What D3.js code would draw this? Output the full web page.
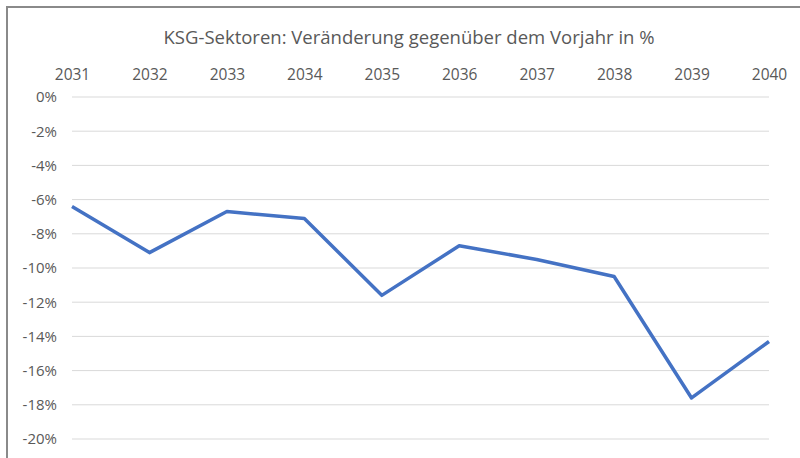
<!DOCTYPE html>
<html>
<head>
<meta charset="utf-8">
<script src="https://cdn.jsdelivr.net/npm/d3@7"></script>
<style>
  body { margin: 0; background: #fff; }
  text { font-family: "Open Sans", sans-serif; fill: #595959; }
</style>
</head>
<body>
<div id="graph"></div>
<script>
// chart data
var years = ["2031", "2032", "2033", "2034", "2035", "2036", "2037", "2038", "2039", "2040"];
var change = [-6.4, -9.1, -6.7, -7.1, -11.6, -8.7, -9.5, -10.5, -17.6, -14.3];
var yTicks = [0, -2, -4, -6, -8, -10, -12, -14, -16, -18, -20];
var title = "KSG-Sektoren: Veränderung gegenüber dem Vorjahr in %";

var W = 800, H = 458;
var margin = {top: 97, right: 31, bottom: 19, left: 72},
    width = W - margin.left - margin.right,
    height = H - margin.top - margin.bottom;

var svg = d3.select("#graph").append("svg")
    .attr("width", W)
    .attr("height", H);

// outer frame (only top and left visible in the crop)
svg.append("path")
    .attr("d", "M7," + H + "V7H" + W)
    .attr("fill", "none")
    .attr("stroke", "#8a8a8a")
    .attr("stroke-width", 2);

svg.append("text")
    .attr("x", 409)
    .attr("y", 44)
    .attr("text-anchor", "middle")
    .style("font-size", "18.5px")
    .text(title);

var g = svg.append("g")
    .attr("transform", "translate(" + margin.left + "," + margin.top + ")");

var x = d3.scalePoint()
    .domain(years)
    .range([0, width]);

var y = d3.scaleLinear()
    .domain([-20, 0])
    .range([342, 0]);

// gridlines
g.selectAll(".grid")
  .data(yTicks)
  .enter()
  .append("line")
    .attr("x1", 0)
    .attr("x2", width)
    .attr("y1", function(d) { return y(d); })
    .attr("y2", function(d) { return y(d); })
    .attr("stroke", "#d9d9d9")
    .attr("stroke-width", 1);

// y labels
var yAxis = g.append("g")
    .call(d3.axisLeft(y).tickValues(yTicks).tickSize(0).tickPadding(15)
      .tickFormat(function(d) { return d + "%"; }));
yAxis.select(".domain").remove();
yAxis.selectAll("text").style("font-size", "15px").attr("fill", "#595959");

// x labels on top
var xAxis = g.append("g")
    .call(d3.axisTop(x).tickSize(0).tickPadding(17));
xAxis.select(".domain").remove();
xAxis.selectAll("text").style("font-size", "15.5px").attr("fill", "#595959");

var line = d3.line()
    .x(function(d, i) { return x(years[i]); })
    .y(function(d) { return y(d); });

g.append("path")
    .datum(change)
    .attr("d", line)
    .attr("fill", "none")
    .attr("stroke", "#4472c4")
    .attr("stroke-width", 3.5)
    .attr("stroke-linejoin", "round");
</script>
</body>
</html>
